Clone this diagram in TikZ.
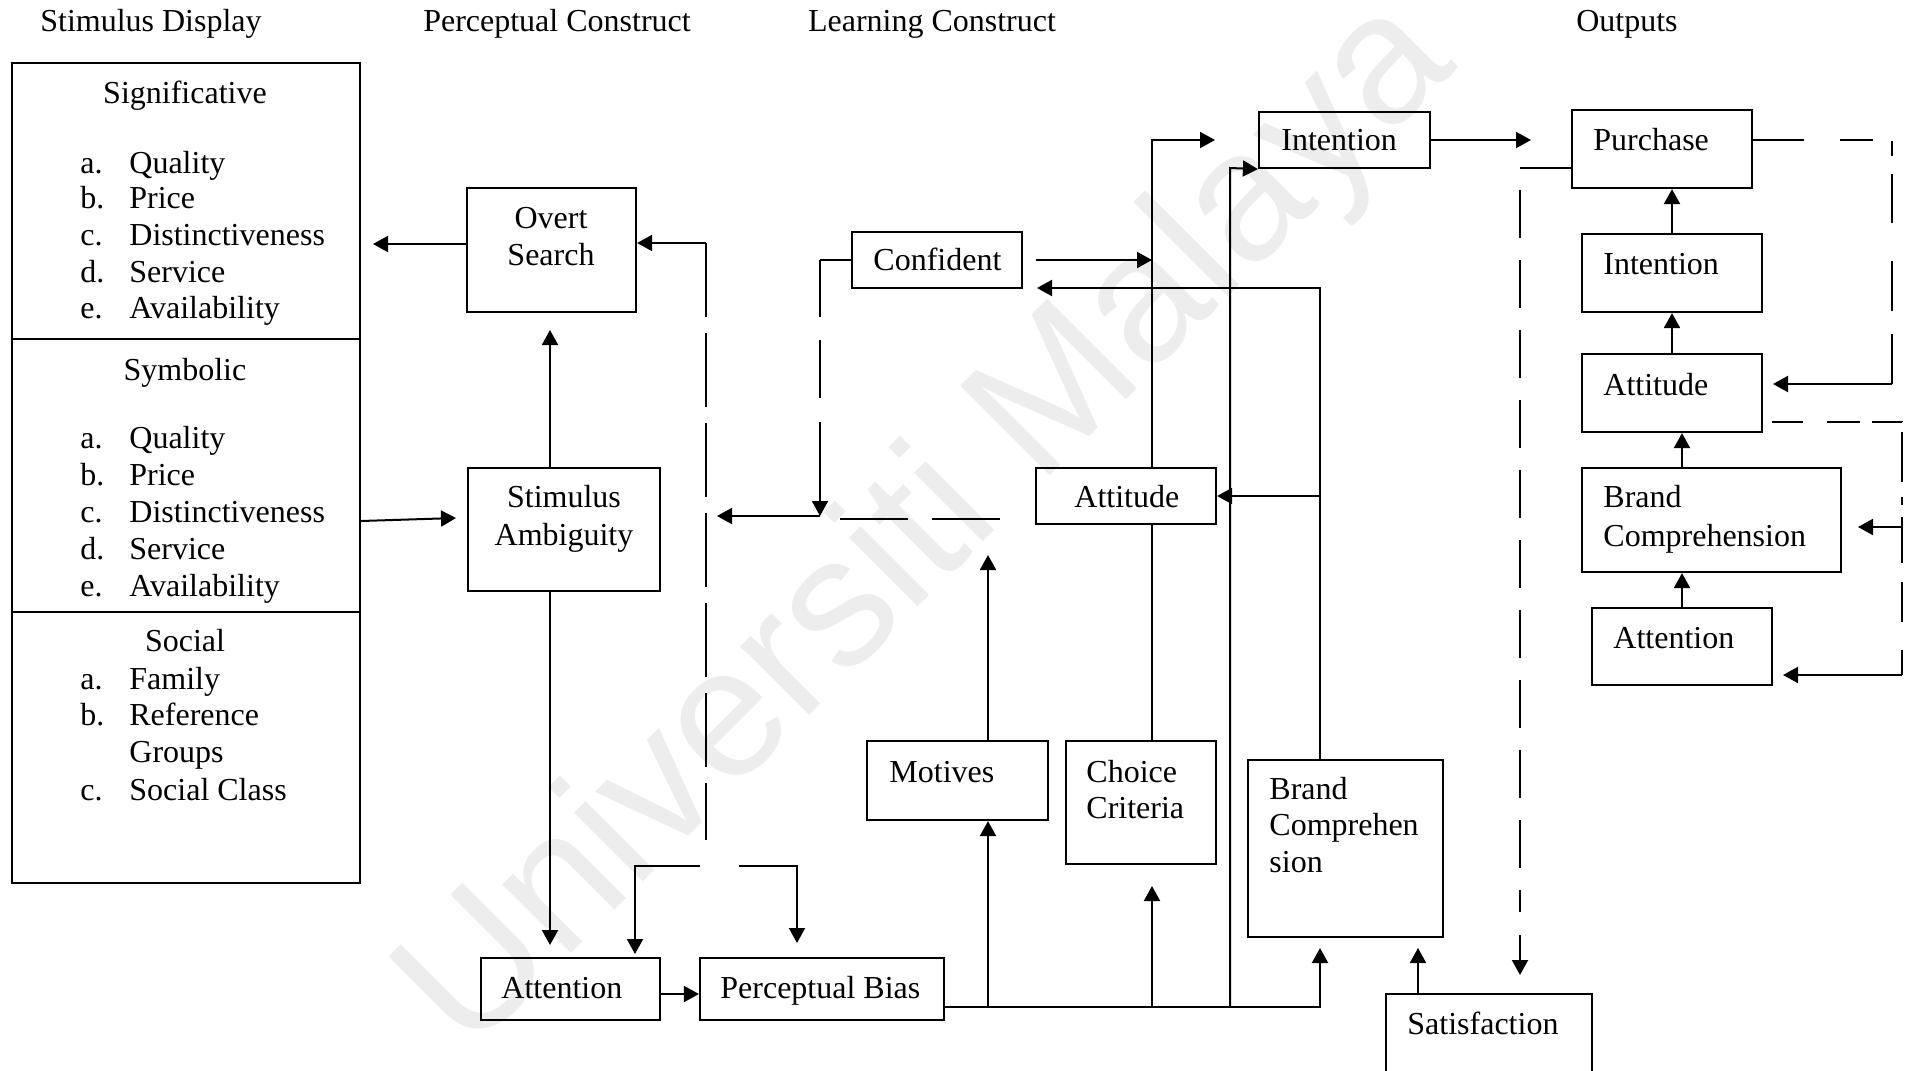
\documentclass[tikz,border=0pt]{standalone}
\usepackage{fontspec}
\setmainfont{Liberation Serif}
\newfontfamily\wmfont{Liberation Sans}
\usetikzlibrary{arrows.meta}

\tikzset{
  box/.style={draw, line width=1.1pt, inner sep=0pt},
  lbl/.style={inner sep=0pt, anchor=base west, font=\fontsize{16}{18}\selectfont},
  ctr/.style={inner sep=0pt, anchor=base, font=\fontsize{16}{18}\selectfont},
  ln/.style={line width=1pt},
  arr/.style={ln, -{Triangle[length=7.5pt,width=8pt]}},
  rule/.style={line width=1.1pt},
}

\begin{document}
\begin{tikzpicture}[x=0.5pt, y=-0.5pt]
\useasboundingbox (0,0) rectangle (1908,1071);
\clip (0,0) rectangle (1908,1071);

% watermark
\node[rotate=45, text=black!7, font=\wmfont\fontsize{92}{92}\selectfont, inner sep=0pt] (wm) at (930,528) {Universiti Malaya};

% column headings
\node[ctr] (hStim)  at (151,31)  {Stimulus Display};
\node[ctr] (hPerc)  at (557,31)  {Perceptual Construct};
\node[ctr] (hLearn) at (932,31)  {Learning Construct};
\node[ctr] (hOut)   at (1627,31) {Outputs};

% stimulus display box with three sections
\node[box, minimum width=174pt, minimum height=410pt] (stim) at (186,473) {};
\coordinate (d1) at (12,339);
\coordinate (d2) at (12,612);
\draw[rule] (d1) -- (d1 -| stim.east);
\draw[rule] (d2) -- (d2 -| stim.east);

\node[ctr] (sigT) at (185,103) {Significative};
\foreach \k/\t/\y in {a/Quality/173, b/Price/208, c/Distinctiveness/245, d/Service/282, e/Availability/318} {
  \node[lbl] (sigk\k) at (80,\y) {\k.};
  \node[lbl] (sig\k) at (129,\y) {\t};
}
\node[ctr] (symT) at (185,380) {Symbolic};
\foreach \k/\t/\y in {a/Quality/448, b/Price/485, c/Distinctiveness/522, d/Service/559, e/Availability/596} {
  \node[lbl] (symk\k) at (80,\y) {\k.};
  \node[lbl] (sym\k) at (129,\y) {\t};
}
\node[ctr] (socT) at (185,651) {Social};
\node[lbl] (soka) at (80,689) {a.};
\node[lbl] (soca) at (129,689) {Family};
\node[lbl] (sokb) at (80,725) {b.};
\node[lbl] (socb) at (129,725) {Reference};
\node[lbl] (socb2) at (129,762) {Groups};
\node[lbl] (sokc) at (80,800) {c.};
\node[lbl] (socc) at (129,800) {Social Class};

% perceptual construct boxes
\node[box, minimum width=84.5pt, minimum height=62pt] (os) at (551.5,250) {};
\node[ctr] (osT1) at (551,228) {Overt};
\node[ctr] (osT2) at (551,265) {Search};
\node[box, minimum width=96pt, minimum height=61.5pt] (sa) at (564,529.5) {};
\node[ctr] (saT1) at (564,507) {Stimulus};
\node[ctr] (saT2) at (564,545) {Ambiguity};
\node[box, minimum width=89.5pt, minimum height=31pt] (att1) at (570.5,989) {};
\node[lbl] (att1T) at (501,998) {Attention};
\node[box, minimum width=122pt, minimum height=31pt] (pb) at (822,989) {};
\node[lbl] (pbT) at (720,998) {Perceptual Bias};

% learning construct boxes
\node[box, minimum width=85pt, minimum height=28pt] (conf) at (937,260) {};
\node[lbl] (confT) at (873,270) {Confident};
\node[box, minimum width=90pt, minimum height=28pt] (attm) at (1126,496) {};
\node[lbl] (attmT) at (1074,507) {Attitude};
\node[box, minimum width=85.5pt, minimum height=28pt] (intm) at (1344.5,140) {};
\node[lbl] (intmT) at (1281,150) {Intention};
\node[box, minimum width=90.5pt, minimum height=39.5pt] (mot) at (957.5,780.5) {};
\node[lbl] (motT) at (889,782) {Motives};
\node[box, minimum width=75pt, minimum height=61.5pt] (cc) at (1141,802.5) {};
\node[lbl] (ccT1) at (1086,782) {Choice};
\node[lbl] (ccT2) at (1086,818) {Criteria};
\node[box, minimum width=97.5pt, minimum height=88.5pt] (bcm) at (1345.5,848.5) {};
\node[lbl] (bcmT1) at (1269,799) {Brand};
\node[lbl] (bcmT2) at (1269,835) {Comprehen};
\node[lbl] (bcmT3) at (1269,872) {sion};
\node[box, minimum width=103pt, minimum height=48pt] (sat) at (1489,1042) {};
\node[lbl] (satT) at (1407,1034) {Satisfaction};

% output boxes
\node[box, minimum width=90pt, minimum height=39pt] (pur) at (1662,149) {};
\node[lbl] (purT) at (1593,150) {Purchase};
\node[box, minimum width=90pt, minimum height=39pt] (into) at (1672,273) {};
\node[lbl] (intoT) at (1603,274) {Intention};
\node[box, minimum width=90pt, minimum height=39pt] (atto) at (1672,393) {};
\node[lbl] (attoT) at (1603,395) {Attitude};
\node[box, minimum width=129.5pt, minimum height=52pt] (bco) at (1711.5,520) {};
\node[lbl] (bcoT1) at (1603,507) {Brand};
\node[lbl] (bcoT2) at (1603,546) {Comprehension};
\node[box, minimum width=90pt, minimum height=38.5pt] (atno) at (1682,646.5) {};
\node[lbl] (atnoT) at (1613,648) {Attention};

% ---- perceptual connectors
\coordinate (osL) at (373,244);
\draw[arr] (os.west |- osL) -- (osL);
\coordinate (osUp) at (550,330);
\draw[arr] (sa.north -| osUp) -- (osUp);
\coordinate (stR) at (360,521);
\coordinate (saL) at (456,518);
\draw[arr] (stim.east |- stR) -- (saL);
\coordinate (attIn) at (550,945);
\draw[arr] (sa.south -| attIn) -- (attIn);
\draw[arr] ([yshift=-2.5pt]att1.east) -- ([yshift=-2.5pt]pb.west);

\coordinate (fbL) at (700,866);
\coordinate (fbLc) at (635,866);
\coordinate (fbLt) at (635,954);
\draw[arr] (fbL) -- (fbLc) -- (fbLt);
\coordinate (fbR) at (739,866);
\coordinate (fbRc) at (797,866);
\coordinate (fbRt) at (797,943);
\draw[arr] (fbR) -- (fbRc) -- (fbRt);

% dashed feedback to overt search
\coordinate (osR) at (706,243);
\coordinate (osRb) at (706,840);
\draw[ln, dash pattern=on 37pt off 8pt] (osR) -- (osRb);
\draw[arr] (osR) -- (osR -| os.east);

% confident loop back to stimulus ambiguity
\coordinate (cfL) at (820,260);
\coordinate (cfM) at (820,422);
\coordinate (cfB) at (820,516);
\coordinate (saR) at (717,516);
\draw[ln] (conf.west) -- (cfL);
\draw[ln, dash pattern=on 28.5pt off 11.5pt on 29pt off 12pt] (cfL) -- (cfM);
\draw[arr] (cfM) -- (cfB);
\draw[arr] (cfB) -- (saR);
\coordinate (mJ) at (1000,519);
\coordinate (mJl) at (840,519);
\draw[ln, dash pattern=on 34pt off 12pt] (mJ) -- (mJl);

% motives
\coordinate (motUp) at (988,555);
\draw[arr] (mot.north -| motUp) -- (motUp);

% bus from perceptual bias
\coordinate (bus1) at (988,1007);
\coordinate (bus2) at (1152,1007);
\coordinate (bus3) at (1230,1007);
\coordinate (bus4) at (1320,1007);
\coordinate (bcIn) at (1320,948);
\draw[arr] (pb.east |- bus4) -- (bus4) -- (bcIn);
\draw[arr] (bus1) -- (bus1 |- mot.south);
\coordinate (ccIn) at (1152,886);
\draw[arr] (bus2) -- (ccIn);
\coordinate (v2top) at (1230,168);
\draw[arr] (bus3) -- (v2top) -- (intm.south west);

% choice criteria through attitude to intention
\coordinate (v1top) at (1152,140);
\coordinate (v1tip) at (1215,140);
\draw[ln] (cc.north -| v1top) -- (attm.south -| v1top);
\draw[arr] (attm.north -| v1top) -- (v1top) -- (v1tip);
\coordinate (cfR) at (1036,260);
\draw[arr] (cfR) -- (cfR -| v1top);

% brand comprehension feedback
\coordinate (v3top) at (1320,288);
\coordinate (cfIn) at (1037,288);
\draw[arr] (bcm.north -| v3top) -- (v3top) -- (cfIn);
\coordinate (v3att) at (1320,496);
\draw[arr] (v3att) -- (attm.east);

% intention to purchase
\coordinate (purIn) at (1531,140);
\draw[arr] (intm.east) -- (purIn);

% purchase to satisfaction
\coordinate (sLc) at (1520,168);
\coordinate (sLm) at (1520,912);
\coordinate (sLa) at (1520,935);
\coordinate (satIn) at (1520,975);
\draw[ln] (pur.west |- v2top) -- (sLc);
\draw[ln, dash pattern=on 24pt off 11pt, dash phase=24pt] (sLc) -- (sLm);
\draw[arr] (sLa) -- (satIn);
\coordinate (satUp) at (1418,948);
\draw[arr] (sat.north -| satUp) -- (satUp);

% purchase feedback to attitude
\coordinate (pRc) at (1892,140);
\coordinate (pRb) at (1892,384);
\coordinate (attoIn) at (1773,384);
\draw[ln, dash pattern=on 25.5pt off 18pt on 16.5pt off 10pt on 7.5pt off 9pt on 24.5pt off 19pt on 25pt off 11.5pt on 25.5pt off 10pt] (pur.east |- pRc) -- (pRc) -- (pRb);
\draw[arr] (pRb) -- (attoIn);

% attitude feedback to brand comprehension and attention
\coordinate (aRs) at (1772,422);
\coordinate (aRc) at (1902,422);
\coordinate (aRb) at (1902,675);
\draw[ln, dash pattern=on 15.5pt off 12pt on 16.5pt off 6pt on 15pt off 5pt on 25pt off 7.5pt on 4pt off 6pt on 23pt off 9.5pt on 20pt off 14pt on 12.5pt off 5pt] (aRs) -- (aRc) -- (aRb);
\coordinate (bcoIn) at (1858,527);
\draw[arr] (aRc |- bcoIn) -- (bcoIn);
\coordinate (atnoIn) at (1783,675);
\draw[arr] (aRb) -- (atnoIn);

% output chain
\draw[arr] (into.north) -- (into.north |- pur.south);
\draw[arr] (atto.north) -- (atto.north |- into.south);
\draw[arr] (atno.north |- bco.north) -- (atno.north |- atto.south);
\draw[arr] (atno.north) -- (atno.north |- bco.south);
\end{tikzpicture}
\end{document}
